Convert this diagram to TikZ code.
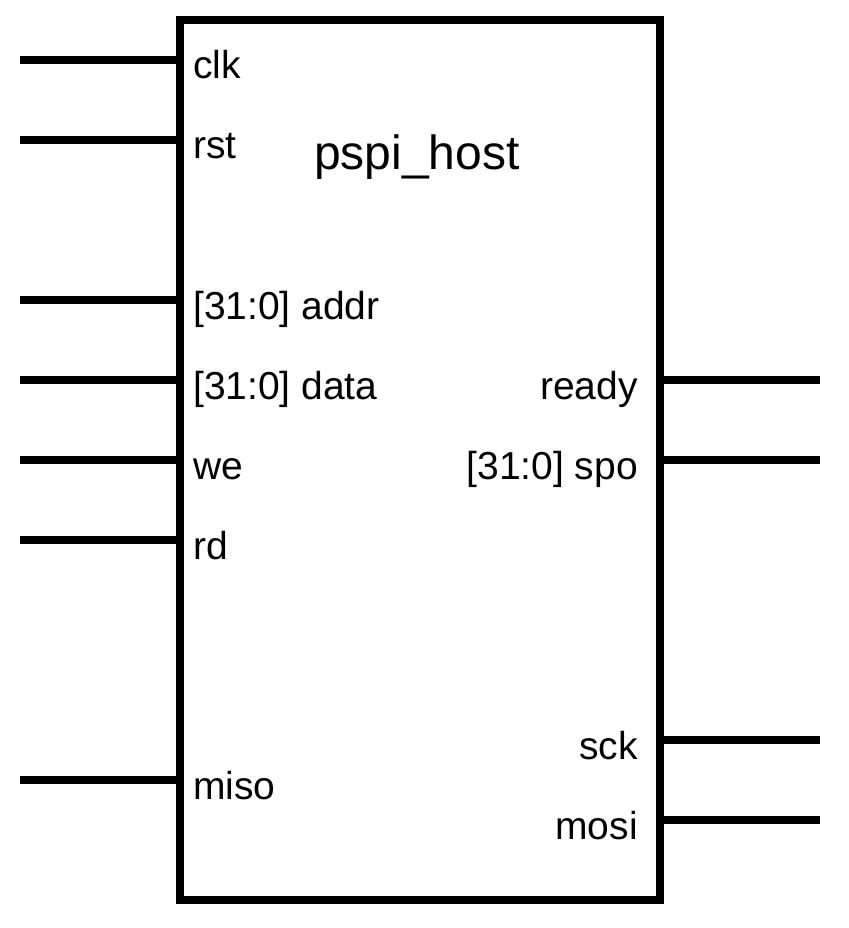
\documentclass[tikz,border=0pt]{standalone}
\usepackage{fontspec}
\setmainfont{Liberation Sans}
\begin{document}
\begin{tikzpicture}[x=1pt,y=-1pt,
  wire/.style={line width=8pt},
  block/.style={draw, line width=8pt, outer sep=0pt, inner sep=0pt, minimum width=480pt, minimum height=880pt},
  lpin/.style={anchor=base west, inner sep=0pt, font=\fontsize{39}{45}\selectfont},
  rpin/.style={anchor=base east, inner sep=0pt, font=\fontsize{39}{45}\selectfont},
  title/.style={anchor=base, inner sep=0pt, font=\fontsize{48}{55}\selectfont}]
\useasboundingbox (0,0) rectangle (848,928);
\node[block] (box) at (420,460) {};
\node[title] (name) at (417,170) {pspi\_host};
% left pins
\foreach \n/\y/\t in {clk/60/clk, rst/140/rst, addr/300/{[31:0] addr}, data/380/{[31:0] data}, we/460/we, rd/540/rd, miso/780/miso}{
  \coordinate (\n L) at (20,\y);
  \draw[wire] (\n L) -- (\n L -| box.west);
  \node[lpin] (\n T) at (193,\y+19) {\t};
}
% right pins
\foreach \n/\y/\t in {ready/380/ready, spo/460/{[31:0] spo}, sck/740/sck, mosi/820/mosi}{
  \coordinate (\n R) at (820,\y);
  \draw[wire] (\n R -| box.east) -- (\n R);
  \node[rpin] (\n T) at (638,\y+19) {\t};
}
\end{tikzpicture}
\end{document}
